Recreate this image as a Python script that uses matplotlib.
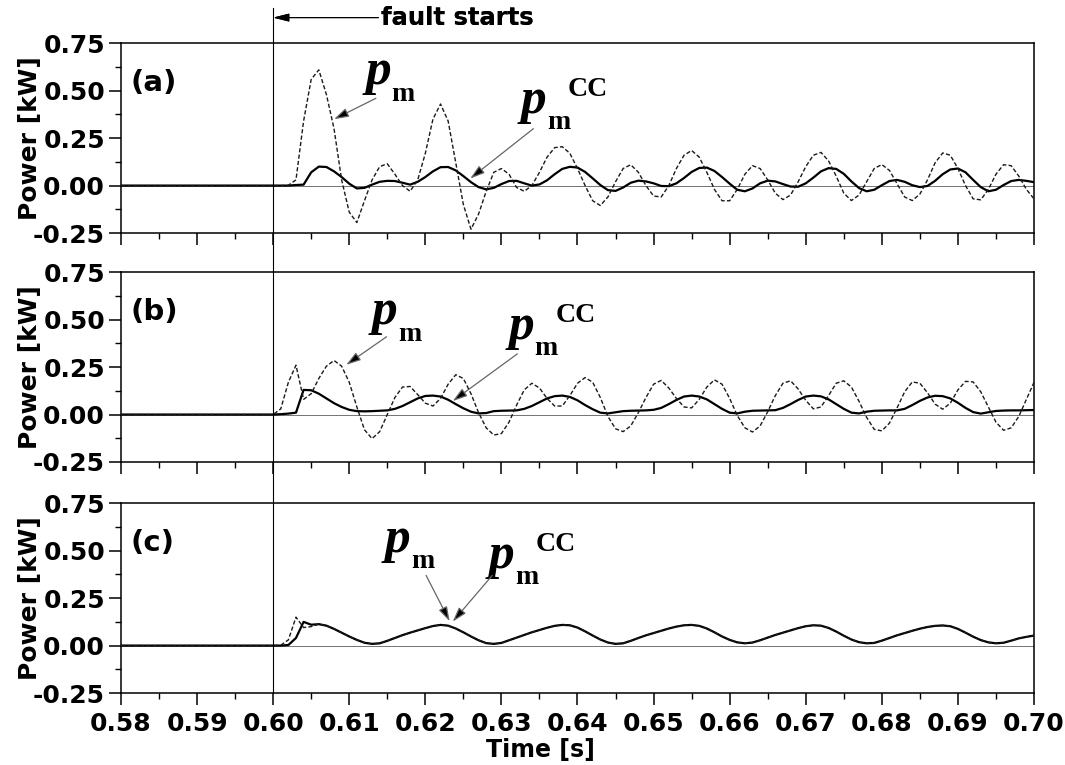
import numpy as np
import matplotlib
matplotlib.use("Agg")
import matplotlib.pyplot as plt
from matplotlib.lines import Line2D
from matplotlib.ticker import MultipleLocator
from matplotlib.transforms import blended_transform_factory

# time base: zero before the fault (0.58 s), then 1 ms samples 0.600 ... 0.700 s
t_post = np.round(np.arange(0.600, 0.7005, 0.001), 3)
t = np.concatenate([[0.58], t_post])

# (a) power, values [kW]
pm_a = [0.0, 0.0, 0.002, 0.03, 0.34, 0.56, 0.61, 0.48, 0.3, 0.03,
        -0.14, -0.195, -0.08, 0.03, 0.1, 0.115, 0.06, 0.0, -0.03, 0.03,
        0.17, 0.35, 0.43, 0.34, 0.12, -0.1, -0.23, -0.15, -0.03, 0.07,
        0.09, 0.06, -0.01, -0.03, 0.0, 0.07, 0.15, 0.2, 0.205, 0.17,
        0.09, 0.0, -0.08, -0.105, -0.06, 0.02, 0.09, 0.11, 0.07, 0.0,
        -0.055, -0.06, 0.0, 0.09, 0.16, 0.185, 0.15, 0.07, -0.02, -0.08,
        -0.08, -0.02, 0.06, 0.105, 0.09, 0.03, -0.04, -0.074, -0.05, 0.02,
        0.1, 0.16, 0.175, 0.13, 0.05, -0.04, -0.079, -0.05, 0.02, 0.09,
        0.111, 0.08, 0.01, -0.06, -0.079, -0.045, 0.03, 0.12, 0.172, 0.16,
        0.09, 0.0, -0.07, -0.075, -0.02, 0.06, 0.11, 0.105, 0.05, -0.02,
        -0.07]
pmcc_a = [0.0, 0.0, 0.0, 0.003, 0.005, 0.07, 0.1, 0.098, 0.075, 0.045,
          0.01, -0.015, -0.012, 0.005, 0.02, 0.025, 0.024, 0.015, 0.005, 0.02,
          0.045, 0.075, 0.097, 0.098, 0.08, 0.05, 0.018, -0.008, -0.02, -0.012,
          0.008, 0.024, 0.025, 0.012, 0.0, 0.006, 0.028, 0.06, 0.088, 0.099,
          0.095, 0.072, 0.038, 0.003, -0.024, -0.028, -0.01, 0.015, 0.026, 0.022,
          0.012, -0.002, -0.003, 0.012, 0.04, 0.072, 0.093, 0.095, 0.077, 0.045,
          0.01, -0.022, -0.03, -0.015, 0.012, 0.026, 0.022, 0.008, -0.005, -0.006,
          0.012, 0.042, 0.075, 0.092, 0.088, 0.062, 0.022, -0.013, -0.03, -0.022,
          0.002, 0.024, 0.03, 0.02, 0.002, -0.008, -0.002, 0.025, 0.06, 0.085,
          0.09, 0.07, 0.03, -0.008, -0.03, -0.022, 0.003, 0.024, 0.03, 0.025,
          0.018]

# (b)
pm_b = [0.0, 0.03, 0.17, 0.26, 0.08, 0.11, 0.19, 0.255, 0.285, 0.255,
        0.17, 0.04, -0.08, -0.127, -0.09, 0.0, 0.09, 0.145, 0.148, 0.105,
        0.06, 0.045, 0.085, 0.16, 0.21, 0.19, 0.11, 0.01, -0.07, -0.108,
        -0.1, -0.04, 0.05, 0.13, 0.165, 0.14, 0.085, 0.045, 0.045, 0.1,
        0.165, 0.195, 0.17, 0.09, -0.01, -0.075, -0.09, -0.06, 0.01, 0.09,
        0.16, 0.18, 0.14, 0.085, 0.04, 0.035, 0.08, 0.145, 0.183, 0.16,
        0.085, -0.005, -0.07, -0.092, -0.06, 0.015, 0.1, 0.165, 0.178, 0.135,
        0.075, 0.03, 0.04, 0.1, 0.165, 0.178, 0.145, 0.07, -0.015, -0.078,
        -0.086, -0.045, 0.035, 0.12, 0.172, 0.165, 0.115, 0.055, 0.028, 0.06,
        0.13, 0.175, 0.172, 0.12, 0.04, -0.04, -0.083, -0.07, -0.01, 0.08,
        0.17]
pmcc_b = [0.0, 0.002, 0.005, 0.01, 0.13, 0.128, 0.11, 0.085, 0.06, 0.04,
          0.025, 0.018, 0.017, 0.018, 0.02, 0.022, 0.03, 0.045, 0.065, 0.085,
          0.098, 0.1, 0.095, 0.078, 0.055, 0.033, 0.015, 0.006, 0.008, 0.018,
          0.02, 0.021, 0.022, 0.03, 0.045, 0.065, 0.085, 0.097, 0.1, 0.093,
          0.075, 0.05, 0.028, 0.01, 0.006, 0.012, 0.018, 0.02, 0.021, 0.022,
          0.025, 0.035, 0.055, 0.077, 0.095, 0.1, 0.095, 0.08, 0.055, 0.03,
          0.01, 0.006, 0.015, 0.02, 0.021, 0.022, 0.023, 0.035, 0.055, 0.077,
          0.095, 0.1, 0.096, 0.08, 0.055, 0.03, 0.01, 0.006, 0.015, 0.02,
          0.021, 0.022, 0.022, 0.03, 0.05, 0.072, 0.09, 0.099, 0.097, 0.085,
          0.062, 0.035, 0.013, 0.005, 0.012, 0.019, 0.021, 0.022, 0.022, 0.023,
          0.024]

# (c) - both traces coincide after ~0.606 s
pmcc_c = [0.0, 0.0, 0.003, 0.04, 0.125, 0.11, 0.113, 0.105, 0.088, 0.068,
          0.048, 0.03, 0.015, 0.009, 0.012, 0.025, 0.04, 0.055, 0.068, 0.08,
          0.092, 0.103, 0.109, 0.105, 0.09, 0.07, 0.048, 0.028, 0.013, 0.009,
          0.014, 0.028, 0.042, 0.056, 0.07, 0.082, 0.094, 0.104, 0.109, 0.107,
          0.095, 0.075, 0.053, 0.032, 0.016, 0.009, 0.012, 0.025, 0.04, 0.054,
          0.066, 0.078, 0.09, 0.1, 0.107, 0.109, 0.104, 0.09, 0.07, 0.048,
          0.03, 0.017, 0.012, 0.016, 0.028, 0.042, 0.056, 0.068, 0.08, 0.092,
          0.102, 0.107, 0.105, 0.093, 0.074, 0.052, 0.032, 0.018, 0.012, 0.014,
          0.026, 0.04, 0.054, 0.066, 0.078, 0.089, 0.098, 0.104, 0.106, 0.102,
          0.088, 0.068, 0.047, 0.029, 0.017, 0.012, 0.015, 0.026, 0.038, 0.046,
          0.053]
pm_c_head = [0.0, 0.002, 0.03, 0.15, 0.095, 0.1]
pm_c = pm_c_head + pmcc_c[len(pm_c_head):]

x_ticks = [0.58, 0.59, 0.60, 0.61, 0.62, 0.63, 0.64, 0.65, 0.66, 0.67, 0.68, 0.69, 0.70]
x_labels = ["0.58", "0.59", "0.60", "0.61", "0.62", "0.63", "0.64",
            "0.65", "0.66", "0.67", "0.68", "0.69", "0.70"]
y_ticks = [-0.25, 0.0, 0.25, 0.50, 0.75]
y_labels = ["-0.25", "0.00", "0.25", "0.50", "0.75"]
tags = ["(a)", "(b)", "(c)"]
fault_time = 0.60

plt.rcParams["font.family"] = "DejaVu Sans"
plt.rcParams["font.weight"] = "bold"
plt.rcParams["axes.linewidth"] = 1.1

SERIF = "Liberation Serif"
ARROW = dict(arrowstyle="-|>,head_length=0.55,head_width=0.17", mutation_scale=16,
             facecolor="black", edgecolor="0.4", lw=0.9, shrinkA=0, shrinkB=0)


def pm_label(ax, x, y, cc=False):
    ax.text(x, y, "p", fontsize=37, family=SERIF, style="italic",
            weight="bold", va="baseline", ha="left")
    ax.annotate("m", (x, y), xytext=(19, -12), textcoords="offset points",
                fontsize=20, family=SERIF, weight="bold", va="baseline")
    if cc:
        ax.annotate("CC", (x, y), xytext=(34, 12), textcoords="offset points",
                    fontsize=20, family=SERIF, weight="bold", va="baseline")


def pointer(ax, tail, tip):
    ax.annotate("", xy=tip, xytext=tail, arrowprops=ARROW)


fig = plt.figure(figsize=(10.65, 7.65), dpi=100)
left, width, height = 0.1136, 0.8573, 0.248
bottoms = [0.6954, 0.3961, 0.0941]
axes = [fig.add_axes([left, b, width, height]) for b in bottoms]

series = [(pm_a, pmcc_a), (pm_b, pmcc_b), (pm_c, pmcc_c)]
for i, (ax, tag, (pm, pmcc)) in enumerate(zip(axes, tags, series)):
    ax.axhline(0, color="0.45", lw=0.7, zorder=1)
    ax.plot(t, np.r_[0.0, pmcc], color="black", lw=1.6, zorder=3)
    ax.plot(t, np.r_[0.0, pm], color="0.1", lw=1.0, ls=(0, (3.0, 1.6)), zorder=4)
    ax.set_xlim(0.58, 0.70)
    ax.set_ylim(-0.25, 0.75)
    ax.set_xticks(x_ticks)
    ax.set_yticks(y_ticks)
    ax.set_yticklabels(y_labels)
    ax.xaxis.set_minor_locator(MultipleLocator(0.005))
    ax.yaxis.set_minor_locator(MultipleLocator(0.125))
    ax.tick_params(which="major", direction="out", length=8.5, width=1.1,
                   labelsize=18, pad=3, top=False, right=False)
    ax.tick_params(which="minor", direction="out", length=4, width=1.0,
                   top=False, right=False)
    if i < 2:
        ax.tick_params(labelbottom=False)
    else:
        ax.set_xticklabels(x_labels)
        ax.tick_params(axis="x", pad=5)
    ax.set_ylabel("Power [kW]", fontsize=18, fontweight="bold")
    ax.yaxis.set_label_coords(-0.086, 0.5)
    ax.text(0.0105, 0.79, tag, transform=ax.transAxes, fontsize=21,
            fontweight="bold", va="center", ha="left")

ax_a, ax_b, ax_c = axes

# curve labels with pointers
pm_label(ax_a, 0.6121, 0.535)
pointer(ax_a, (0.6135, 0.46), (0.6080, 0.35))
pm_label(ax_a, 0.6325, 0.385, cc=True)
pointer(ax_a, (0.6342, 0.30), (0.6259, 0.037))

pm_label(ax_b, 0.6130, 0.475)
pointer(ax_b, (0.6149, 0.41), (0.6096, 0.262))
pm_label(ax_b, 0.6309, 0.40, cc=True)
pointer(ax_b, (0.6321, 0.32), (0.6236, 0.071))

pm_label(ax_c, 0.6147, 0.495)
pointer(ax_c, (0.6201, 0.37), (0.6232, 0.128))
pm_label(ax_c, 0.6283, 0.41, cc=True)
pointer(ax_c, (0.6288, 0.37), (0.6236, 0.126))

ax_c.set_xlabel("Time [s]", fontsize=17, fontweight="bold")
ax_c.xaxis.set_label_coords(0.459, -0.235)

# fault instant: one line across all panels up to the top of the figure
trans = blended_transform_factory(ax_c.transData, fig.transFigure)
fig.add_artist(Line2D([fault_time, fault_time], [bottoms[2], 0.99],
                      transform=trans, color="black", lw=0.8))
fig.add_artist(ax_c.annotate(
    "fault starts", xy=(fault_time, 0.977), xycoords=trans,
    xytext=(0.6142, 0.977), textcoords=trans, fontsize=17.5, fontweight="bold",
    va="center", ha="left", annotation_clip=False,
    arrowprops=dict(arrowstyle="-|>,head_length=0.6,head_width=0.15",
                    mutation_scale=16, color="black", lw=0.8,
                    shrinkA=0, shrinkB=0, relpos=(0, 0.5))))

fig.savefig("out.png", dpi=100)
